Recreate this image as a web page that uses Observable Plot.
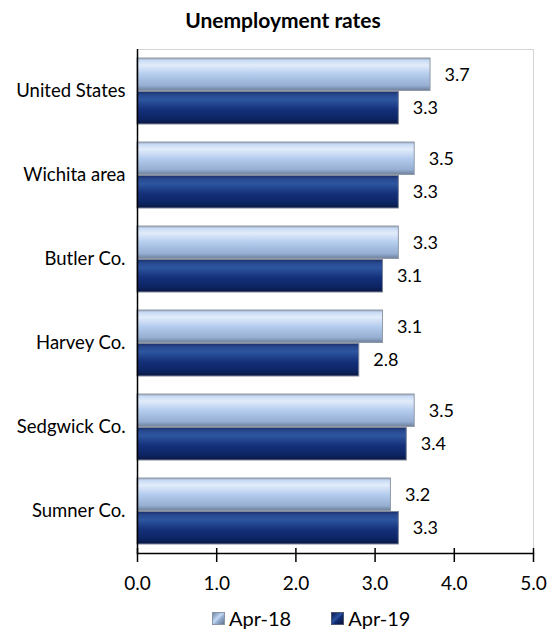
<!DOCTYPE html>
<html>
<head>
<meta charset="utf-8">
<script src="https://cdn.jsdelivr.net/npm/d3@7"></script>
<script src="https://cdn.jsdelivr.net/npm/@observablehq/plot@0.6"></script>
<style>
  html, body { margin: 0; padding: 0; background: #fff; }
  #wrap { position: relative; width: 550px; height: 632px; font-family: Lato, "Noto Sans", sans-serif; color: #000; }
  #title { position: absolute; left: 0; top: 7px; width: 566px; text-align: center; font-weight: bold; font-size: 21px; line-height: 26px; }
  #chart { position: absolute; left: 0; top: 40px; }
  #legend { position: absolute; left: 212px; top: 606px; display: flex; align-items: center; font-size: 20px; }
  .item { display: flex; align-items: center; margin-right: 40px; }
  .sw { width: 13px; height: 13px; margin-right: 4px; box-sizing: border-box; }
  .sw18 { background: linear-gradient(135deg, #6f86a8 0%, #c8dbf4 45%, #9fb8dc 55%, #5f7390 100%); border: 1px solid #8a96a8; }
  .sw19 { background: linear-gradient(135deg, #0a1a50 0%, #2c52a0 45%, #13307a 55%, #050f35 100%); border: 1px solid #4a5670; }
</style>
</head>
<body>
<svg width="0" height="0" style="position:absolute">
  <defs>
    <linearGradient id="g18" x1="0" y1="0" x2="0" y2="1">
      <stop offset="0%" stop-color="#9aa9be"/>
      <stop offset="8%" stop-color="#c9dcf5"/>
      <stop offset="22%" stop-color="#e2ecfa"/>
      <stop offset="50%" stop-color="#b5cdee"/>
      <stop offset="85%" stop-color="#95aed2"/>
      <stop offset="100%" stop-color="#6f7f98"/>
    </linearGradient>
    <linearGradient id="g19" x1="0" y1="0" x2="0" y2="1">
      <stop offset="0%" stop-color="#1b2f6b"/>
      <stop offset="10%" stop-color="#27488f"/>
      <stop offset="25%" stop-color="#2e56a0"/>
      <stop offset="55%" stop-color="#15317b"/>
      <stop offset="85%" stop-color="#0c2463"/>
      <stop offset="100%" stop-color="#0a1640"/>
    </linearGradient>
  </defs>
</svg>
<div id="wrap">
  <div id="title">Unemployment rates</div>
  <div id="chart"></div>
  <div id="legend">
    <div class="item"><div class="sw sw18"></div><span>Apr-18</span></div>
    <div class="item"><div class="sw sw19"></div><span>Apr-19</span></div>
  </div>
</div>
<script>
const categories = ["United States", "Wichita area", "Butler Co.", "Harvey Co.", "Sedgwick Co.", "Sumner Co."];
const series = ["Apr-18", "Apr-19"];
const apr18 = [3.7, 3.5, 3.3, 3.1, 3.5, 3.2];
const apr19 = [3.3, 3.3, 3.1, 2.8, 3.4, 3.3];
const xTicks = [0, 1, 2, 3, 4, 5];

const rows18 = categories.map((c, i) => ({cat: c, series: series[0], value: apr18[i]}));
const rows19 = categories.map((c, i) => ({cat: c, series: series[1], value: apr19[i]}));

const half = 33.5;

const plot = Plot.plot({
  width: 550,
  height: 560,
  marginTop: 9,
  marginBottom: 47,
  marginLeft: 137,
  marginRight: 17,
  style: {fontFamily: "Lato, 'Noto Sans', sans-serif", color: "#000", background: "transparent"},
  x: {domain: [0, 5], ticks: xTicks, tickFormat: d => d.toFixed(1)},
  y: {domain: categories, paddingInner: 0.22, paddingOuter: 0.11},
  marks: [
    Plot.frame({stroke: "#d4d4d4"}),
    Plot.barX(rows18, {x: "value", y: "cat", fill: "url(#g18)", stroke: "#8f99a8", strokeWidth: 1, insetBottom: half}),
    Plot.barX(rows19, {x: "value", y: "cat", fill: "url(#g19)", stroke: "#7d8599", strokeWidth: 1, insetTop: half}),
    Plot.text(rows18, {x: "value", y: "cat", text: d => d.value.toFixed(1), dy: -16.5, dx: 14, textAnchor: "start", fontSize: 18}),
    Plot.text(rows19, {x: "value", y: "cat", text: d => d.value.toFixed(1), dy: 16.5, dx: 14, textAnchor: "start", fontSize: 18}),
    Plot.ruleX([0], {stroke: "#000", strokeWidth: 1.5}),
    Plot.frame({anchor: "bottom", stroke: "#000", strokeWidth: 1.5}),
    Plot.axisX({ticks: xTicks, tickFormat: d => d.toFixed(1), tickSize: 14, dy: -5, tickPadding: 14, fontSize: 19, strokeWidth: 1.5, label: null}),
    Plot.axisY({tickSize: 0, tickPadding: 12, fontSize: 18.5, label: null})
  ]
});
document.getElementById("chart").appendChild(plot);
</script>
</body>
</html>
